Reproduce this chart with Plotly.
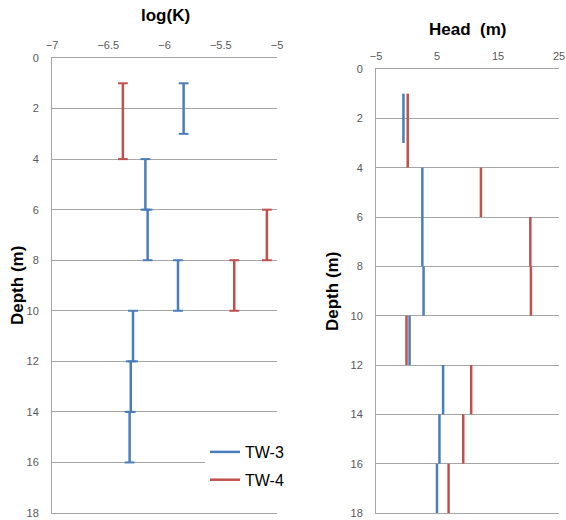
import plotly.graph_objects as go

# ---- data ----
depth_ticks = [0, 2, 4, 6, 8, 10, 12, 14, 16, 18]

# log(K) intervals: top depth, bottom depth, value
tw3_k_top = [1, 4, 6, 8, 10, 12, 14]
tw3_k_bot = [3, 6, 8, 10, 12, 14, 16]
tw3_k_val = [-5.83, -6.17, -6.15, -5.88, -6.28, -6.30, -6.31]

tw4_k_top = [1, 6, 8]
tw4_k_bot = [4, 8, 10]
tw4_k_val = [-6.37, -5.09, -5.38]

# Head intervals
tw3_h_top = [1, 4, 8, 10, 12, 14, 16]
tw3_h_bot = [3, 8, 10, 12, 14, 16, 18]
tw3_h_val = [-0.5, 2.6, 2.8, 0.5, 6.0, 5.4, 5.0]

tw4_h_top = [1, 4, 6, 8, 10, 12, 14, 16]
tw4_h_bot = [4, 6, 8, 10, 12, 14, 16, 18]
tw4_h_val = [0.2, 12.2, 20.3, 20.4, 0.0, 10.6, 9.3, 6.9]

BLUE = "#4A7EBB"
RED = "#C0504D"
W, H = 566, 520


def segs(tops, bots, vals):
    xs, ys = [], []
    for t, b, v in zip(tops, bots, vals):
        xs += [v, v, None]
        ys += [t, b, None]
    return xs, ys


def caps(tops, bots, vals):
    xs, ys = [], []
    for t, b, v in zip(tops, bots, vals):
        xs += [v, v]
        ys += [t, b]
    return xs, ys


fig = go.Figure()

for name, col, tops, bots, vals in [("TW-3", BLUE, tw3_k_top, tw3_k_bot, tw3_k_val),
                                     ("TW-4", RED, tw4_k_top, tw4_k_bot, tw4_k_val)]:
    x, y = segs(tops, bots, vals)
    fig.add_trace(go.Scatter(x=x, y=y, mode="lines", line=dict(color=col, width=2.5),
                             name=name, legendgroup=name, showlegend=True,
                             xaxis="x", yaxis="y", hoverinfo="skip"))
    cx, cy = caps(tops, bots, vals)
    fig.add_trace(go.Scatter(x=cx, y=cy, mode="markers",
                             marker=dict(symbol="line-ew", size=7,
                                         line=dict(color=col, width=2)),
                             showlegend=False, legendgroup=name,
                             xaxis="x", yaxis="y", hoverinfo="skip"))

for name, col, tops, bots, vals in [("TW-3", BLUE, tw3_h_top, tw3_h_bot, tw3_h_val),
                                     ("TW-4", RED, tw4_h_top, tw4_h_bot, tw4_h_val)]:
    x, y = segs(tops, bots, vals)
    fig.add_trace(go.Scatter(x=x, y=y, mode="lines", line=dict(color=col, width=2.5),
                             name=name, legendgroup=name, showlegend=False,
                             xaxis="x2", yaxis="y2", hoverinfo="skip"))

GRID = "#A6A6A6"
TICKC = "#595959"
tickfont = dict(family="Liberation Sans, Arial, sans-serif", size=11, color=TICKC)

xcommon = dict(side="top", showgrid=False, zeroline=False, showline=True, mirror=True,
               linecolor=GRID, linewidth=1, automargin=False, ticklabeloverflow="allow",
               ticks="", tickfont=tickfont, ticklabelstandoff=4, fixedrange=True)
ycommon = dict(range=[18, 0], tickvals=depth_ticks, showgrid=True, gridcolor=GRID,
               gridwidth=1, zeroline=False, showline=True, linecolor=GRID, linewidth=1,
               automargin=False, ticklabeloverflow="allow",
               ticks="", tickfont=tickfont, ticklabelstandoff=10, fixedrange=True)

BOT = 513

fig.update_layout(
    template="none",
    width=W, height=H,
    margin=dict(l=0, r=0, t=0, b=0, pad=0),
    paper_bgcolor="white", plot_bgcolor="white",
    xaxis=dict(domain=[52 / W, 277 / W], range=[-7, -5], dtick=0.5, tick0=-7,
               anchor="y", **xcommon),
    yaxis=dict(domain=[1 - BOT / H, 1 - 58 / H], anchor="x", **ycommon),
    xaxis2=dict(domain=[376 / W, 559 / W], range=[-5, 25], dtick=10, tick0=-5,
                anchor="y2", **xcommon),
    yaxis2=dict(domain=[1 - BOT / H, 1 - 69 / H], anchor="x2", **ycommon),
    legend=dict(x=205 / W, y=1 - 435 / H, xanchor="left", yanchor="top",
                bgcolor="white", borderwidth=0,
                font=dict(family="Liberation Sans, Arial, sans-serif", size=16, color="black"),
                tracegroupgap=4),
    showlegend=True,
)

tfont = dict(family="Liberation Sans, Arial, sans-serif", size=17, color="black")
fig.add_annotation(text="<b>log(K)</b>", x=165 / W, y=1 - 15 / H, xref="paper", yref="paper",
                   showarrow=False, font=tfont, xanchor="center", yanchor="middle")
fig.add_annotation(text="<b>Head  (m)</b>", x=467 / W, y=1 - 29 / H, xref="paper", yref="paper",
                   showarrow=False, font=tfont, xanchor="center", yanchor="middle")
fig.add_annotation(text="<b>Depth (m)</b>", x=17 / W, y=1 - 286 / H, xref="paper", yref="paper",
                   showarrow=False, font=tfont, textangle=-90, xanchor="center", yanchor="middle")
fig.add_annotation(text="<b>Depth (m)</b>", x=332 / W, y=1 - 291 / H, xref="paper", yref="paper",
                   showarrow=False, font=tfont, textangle=-90, xanchor="center", yanchor="middle")

fig.write_html(
    "out.html",
    config={"displayModeBar": False},
    post_script="document.body.style.margin='0';document.body.style.overflow='hidden';",
)
